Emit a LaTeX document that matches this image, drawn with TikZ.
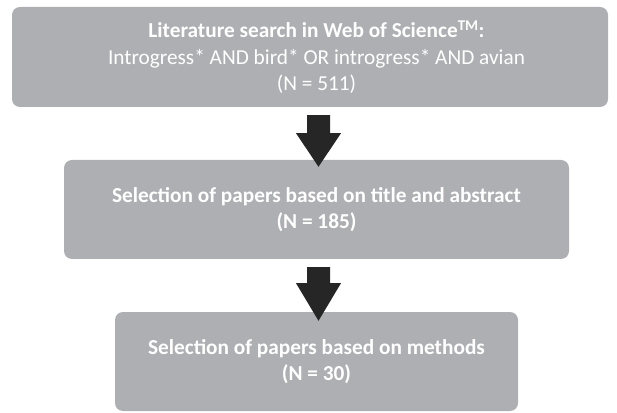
\documentclass[tikz,border=0pt]{standalone}
\usepackage{fontspec}
\setmainfont{Carlito}
\usetikzlibrary{calc}
\definecolor{boxgray}{HTML}{AEAFB3}
\definecolor{arrowdark}{HTML}{262626}
\tikzset{
  flowtext/.style={text=white, align=center, inner sep=0pt, font=\fontsize{21.3}{26.5}\selectfont},
  flowbox/.style={fill=boxgray, draw=none, rounded corners=8pt, flowtext},
  fatarrow/.style={fill=arrowdark, draw=none}
}
\begin{document}
\begin{tikzpicture}[x=1pt,y=1pt]
\useasboundingbox (0,0) rectangle (617,412);
\node[flowbox, minimum width=596pt, minimum height=100pt,
  label={[flowtext, xshift=6.5pt]center:{\textbf{Literature search in Web of Science\textsuperscript{TM}:}\\
   Introgress* AND bird* OR introgress* AND avian\\
   (N = 511)}}] (b1) at (310,355) {};
\node[flowbox, minimum width=505pt, minimum height=99pt] (b2) at (316.5,202.5)
  {\textbf{Selection of papers based on title and abstract}\\
   \textbf{(N = 185)}};
\node[flowbox, minimum width=403pt, minimum height=99pt] (b3) at (316.5,50.5)
  {\textbf{Selection of papers based on methods}\\
   \textbf{(N = 30)}};
% arrow 1
\coordinate (a1) at ($(b1.south)+(8.5,-8)$);
\fill[fatarrow] ($(a1)+(-11.5,0)$) -- ($(a1)+(11.5,0)$) -- ($(a1)+(11.5,-18)$)
  -- ($(a1)+(22.5,-18)$) -- ($(b2.north)+(2,-7)$) -- ($(a1)+(-22.5,-18)$)
  -- ($(a1)+(-11.5,-18)$) -- cycle;
% arrow 2
\coordinate (a2) at ($(b2.south)+(2,-8)$);
\fill[fatarrow] ($(a2)+(-11.5,0)$) -- ($(a2)+(11.5,0)$) -- ($(a2)+(11.5,-16)$)
  -- ($(a2)+(22.5,-16)$) -- ($(b3.north)+(2,-9)$) -- ($(a2)+(-22.5,-16)$)
  -- ($(a2)+(-11.5,-16)$) -- cycle;
\end{tikzpicture}
\end{document}
